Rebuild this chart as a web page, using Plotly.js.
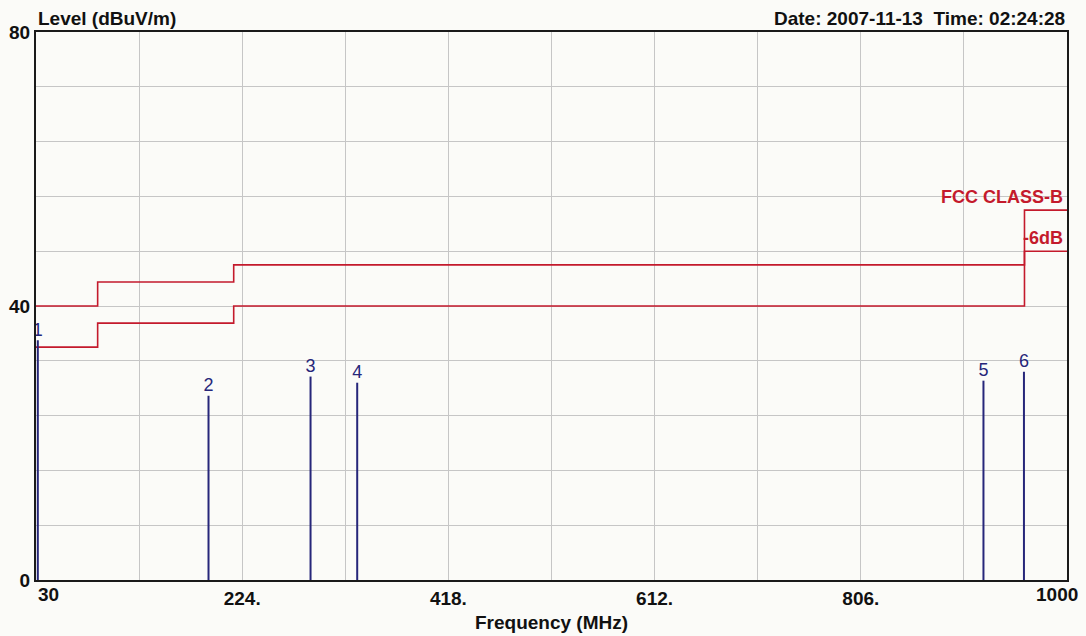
<!DOCTYPE html>
<html>
<head>
<meta charset="utf-8">
<script src="https://cdn.plot.ly/plotly-3.0.1.min.js"></script>
<style>html,body{margin:0;padding:0;background:#fbfbf8;}#chart{width:1086px;height:636px;}</style>
</head>
<body>
<div id="chart"></div>
<script>
// Limit line breakpoints (MHz) and levels (dBuV/m)
const limitFreq = [30, 88, 216, 960, 1000];
const fccClassB = [40, 43.5, 46, 54, 54];
const minus6dB  = [34, 37.5, 40, 48, 48];

// Measured peaks
const peakLabels = ["1", "2", "3", "4", "5", "6"];
const peakFreq   = [31.7, 192.3, 288.3, 332.2, 921.4, 959.5];
const peakLevel  = [35.0, 26.9, 29.7, 28.8, 29.1, 30.4];

// Axis ticks
const xGrid = [30, 127, 224, 321, 418, 515, 612, 709, 806, 903, 1000];
const xTickText = ["", "", "224.", "", "418.", "", "612.", "", "806.", "", ""];
const yGrid = [0, 8, 16, 24, 32, 40, 48, 56, 64, 72, 80];
const yTickText = ["0", "", "", "", "", "40", "", "", "", "", "80"];

const red = "#c41a2c";
const navy = "#26267a";
const fam = "Liberation Sans, Arial, sans-serif";
const boldFont = {family: fam, size: 19, color: "#111"};
const bold = s => s ? "<b>" + s + "</b>" : "";

// Build vertical peak lines
const lx = [], ly = [];
peakFreq.forEach((f, i) => { lx.push(f, f, null); ly.push(0, peakLevel[i], null); });

const traces = [
  {x: limitFreq, y: fccClassB, mode: "lines", line: {shape: "hv", color: red, width: 1.6}, hoverinfo: "skip"},
  {x: limitFreq, y: minus6dB, mode: "lines", line: {shape: "hv", color: red, width: 1.6}, hoverinfo: "skip"},
  {x: lx, y: ly, mode: "lines", line: {color: navy, width: 2}, hoverinfo: "skip"},
  {x: peakFreq, y: peakLevel, mode: "text", text: peakLabels, textposition: "top center",
   textfont: {family: fam, size: 18, color: navy}, hoverinfo: "skip"}
];

const layout = {
  width: 1086, height: 636,
  margin: {l: 36, r: 19, t: 32, b: 56},
  paper_bgcolor: "#fbfbf8", plot_bgcolor: "#fbfbf8",
  showlegend: false,
  xaxis: {
    range: [30, 1000], tickmode: "array", tickvals: xGrid, ticktext: xTickText.map(bold),
    showgrid: true, gridcolor: "#c6c6c6", gridwidth: 1, zeroline: false,
    showline: true, mirror: true, linecolor: "#1a1a1a", linewidth: 2, ticks: "",
    tickfont: boldFont,
    title: {text: "<b>Frequency (MHz)</b>", font: boldFont, standoff: 8}
  },
  yaxis: {
    range: [0, 80], tickmode: "array", tickvals: yGrid, ticktext: yTickText.map(bold),
    showgrid: true, gridcolor: "#c6c6c6", gridwidth: 1, zeroline: false,
    showline: true, mirror: true, linecolor: "#1a1a1a", linewidth: 2, ticks: "",
    tickfont: boldFont
  },
  annotations: [
    {xref: "paper", yref: "paper", x: 0, y: 1, xanchor: "left", yanchor: "bottom", yshift: 1,
     text: "<b>Level (dBuV/m)</b>", showarrow: false, font: boldFont},
    {xref: "paper", yref: "paper", x: 1, y: 1, xanchor: "right", yanchor: "bottom", yshift: 1,
     text: "<b>Date: 2007-11-13  Time: 02:24:28</b>", showarrow: false, font: boldFont},
    {xref: "x", yref: "paper", x: 30, y: 0, xanchor: "left", yanchor: "top", yshift: -2,
     text: "<b>30</b>", showarrow: false, font: boldFont},
    {xref: "x", yref: "paper", x: 1000, y: 0, xanchor: "right", yanchor: "top", yshift: -2, xshift: 13,
     text: "<b>1000</b>", showarrow: false, font: boldFont},
    {xref: "x", yref: "y", x: 1000, y: 54, xanchor: "right", yanchor: "bottom", xshift: -2, yshift: 1,
     text: "<b>FCC CLASS-B</b>", showarrow: false, font: {family: fam, size: 18, color: red}},
    {xref: "x", yref: "y", x: 1000, y: 48, xanchor: "right", yanchor: "bottom", xshift: -2, yshift: 1,
     text: "<b>-6dB</b>", showarrow: false, font: {family: fam, size: 18, color: red}}
  ]
};

Plotly.newPlot("chart", traces, layout, {displayModeBar: false, staticPlot: true});
</script>
</body>
</html>
